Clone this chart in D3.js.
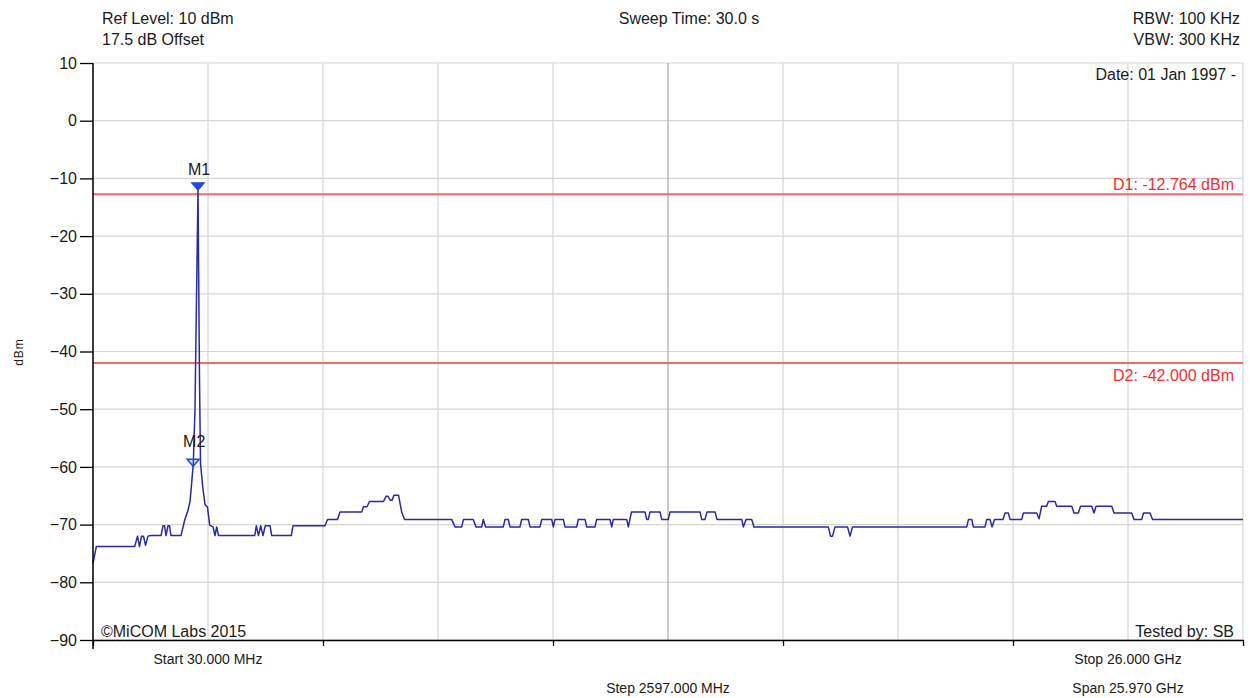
<!DOCTYPE html>
<html>
<head>
<meta charset="utf-8">
<script src="https://cdn.jsdelivr.net/npm/d3@7"></script>
<style>
  body { margin: 0; background: #fff; }
  svg text { font-family: "Liberation Sans", Arial, sans-serif; fill: #1a1a1a; }
</style>
</head>
<body>
<svg id="chart" width="1250" height="698"></svg>
<script>
// Spectrum sweep 30 MHz – 26 GHz, peak-hold trace
const freqGHz = [
  0.030, 0.105, 0.972, 1.035, 1.080, 1.125, 1.170, 1.216, 1.272, 1.329,
  1.566, 1.611, 1.645, 1.679, 1.724, 1.758, 1.791, 2.017, 2.101, 2.175,
  2.221, 2.254, 2.295, 2.333, 2.401, 2.435, 2.458, 2.507, 2.559, 2.616,
  2.665, 2.740, 2.785, 2.823, 2.864, 3.682, 3.718, 3.767, 3.817, 3.869,
  3.921, 4.027, 4.066, 4.508, 4.547, 5.269, 5.326, 5.552, 5.608, 6.098,
  6.139, 6.218, 6.274, 6.590, 6.647, 6.692, 6.748, 6.782, 6.827, 6.929,
  7.001, 7.065, 8.131, 8.205, 8.356, 8.397, 8.618, 8.679, 8.808, 8.844,
  8.894, 9.296, 9.334, 9.409, 9.447, 9.673, 9.711, 9.860, 9.899, 10.125,
  10.163, 10.389, 10.425, 10.463, 10.651, 10.689, 10.953, 10.990, 11.141, 11.179,
  11.367, 11.405, 11.705, 11.744, 11.780, 12.082, 12.119, 12.191, 12.496, 12.534,
  12.570, 12.609, 12.835, 12.873, 13.022, 13.060, 13.738, 13.776, 13.851, 13.896,
  14.077, 14.122, 14.680, 14.716, 14.777, 14.905, 14.957, 16.635, 16.685, 16.730,
  16.787, 17.069, 17.125, 17.182, 19.761, 19.801, 19.874, 19.910, 20.174, 20.213,
  20.287, 20.332, 20.389, 20.581, 20.626, 20.700, 20.739, 21.003, 21.039, 21.342,
  21.394, 21.454, 21.567, 21.604, 21.755, 21.793, 22.132, 22.184, 22.281, 22.331,
  22.584, 22.636, 22.681, 23.035, 23.087, 23.487, 23.539, 23.713, 23.753, 23.900,
  23.957, 26.000
];
const levelDbm = [
  -76.7, -73.8, -73.8, -72.0, -73.8, -72.0, -72.0, -73.6, -72.0, -71.9,
  -71.9, -70.2, -70.2, -71.9, -70.2, -70.2, -71.9, -71.9, -69.2, -67.5,
  -66.0, -63.2, -59.4, -50.0, -12.0, -45.0, -59.4, -63.4, -66.5, -67.0,
  -70.1, -70.4, -71.9, -70.4, -71.9, -71.9, -70.2, -71.9, -70.2, -71.9,
  -70.2, -70.2, -71.9, -71.9, -70.2, -70.2, -69.1, -69.1, -67.8, -67.8,
  -66.9, -66.9, -66.0, -66.0, -65.1, -65.1, -65.8, -65.8, -64.9, -64.9,
  -67.8, -69.1, -69.1, -70.4, -70.4, -69.1, -69.1, -70.4, -70.4, -69.1,
  -70.4, -70.4, -69.1, -69.1, -70.4, -70.4, -69.1, -69.1, -70.4, -70.4,
  -69.1, -69.1, -70.4, -69.1, -69.1, -70.4, -70.4, -69.1, -69.1, -70.4,
  -70.4, -69.1, -69.1, -70.4, -69.1, -69.1, -70.4, -67.8, -67.8, -69.1,
  -69.1, -67.8, -67.8, -69.1, -69.1, -67.8, -67.8, -69.1, -69.1, -67.8,
  -67.8, -69.1, -69.1, -70.4, -69.1, -69.1, -70.4, -70.4, -72.0, -72.0,
  -70.4, -70.4, -72.0, -70.4, -70.4, -69.1, -69.1, -70.4, -70.4, -69.1,
  -69.1, -70.4, -69.1, -69.1, -68.0, -68.0, -69.1, -69.1, -68.0, -68.0,
  -69.0, -66.8, -66.8, -66.0, -66.0, -66.8, -66.8, -68.0, -68.0, -66.8,
  -66.8, -68.0, -66.8, -66.8, -68.0, -68.0, -69.1, -69.1, -68.0, -68.0,
  -69.1, -69.1
];

// Markers
const markerNames = ["M1", "M2"];
const markerFreqGHz = [2.401, 2.292];
const markerDbm = [-12.0, -59.9];
const markerFilled = [true, false];

// Display (limit) lines
const limitNames = ["D1", "D2"];
const limitDbm = [-12.764, -42.000];

// Axis setup
const startGHz = 0.030, stopGHz = 26.000, divisions = 10;
const stepGHz = (stopGHz - startGHz) / divisions;
const yTicks = [10, 0, -10, -20, -30, -40, -50, -60, -70, -80, -90];
const gridFreqs = d3.range(divisions + 1).map(i => startGHz + i * stepGHz);
const majorFreqs = gridFreqs.filter((d, i) => i % 2 === 0);

const headerLeft = ["Ref Level: 10 dBm", "17.5 dB Offset"];
const headerCenter = "Sweep Time: 30.0 s";
const headerRight = ["RBW: 100 KHz", "VBW: 300 KHz"];
const dateText = "Date: 01 Jan 1997 -";
const copyrightText = "\u00A9MiCOM Labs 2015";
const testedText = "Tested by: SB";
const footerTop = [["Start 30.000 MHz", 1], ["Stop 26.000 GHz", 9]];
const footerBottom = [["Step 2597.000 MHz", 5], ["Span 25.970 GHz", 9]];

const svg = d3.select("#chart");
const x = d3.scaleLinear().domain([startGHz, stopGHz]).range([93, 1243]);
const y = d3.scaleLinear().domain([-90, 10]).range([640, 63]);

// Grid
const grid = svg.append("g");
grid.selectAll("line.h").data(yTicks).join("line")
  .attr("x1", x(startGHz)).attr("x2", x(stopGHz))
  .attr("y1", d => y(d)).attr("y2", d => y(d))
  .attr("stroke", "#d6d6d6").attr("stroke-width", 1.2);
grid.selectAll("line.v").data(gridFreqs).join("line")
  .attr("x1", d => x(d)).attr("x2", d => x(d))
  .attr("y1", y(10)).attr("y2", y(-90))
  .attr("stroke", (d, i) => i === 5 ? "#a8a8a8" : "#d6d6d6")
  .attr("stroke-width", 1.2);

// Limit lines
limitDbm.forEach((v, i) => {
  svg.append("line")
    .attr("x1", x(startGHz)).attr("x2", x(stopGHz))
    .attr("y1", y(v)).attr("y2", y(v))
    .attr("stroke", "#f26a6a").attr("stroke-width", 2);
  svg.append("text")
    .attr("x", 1234).attr("y", i === 0 ? y(v) - 4 : y(v) + 18)
    .attr("text-anchor", "end").attr("font-size", 16)
    .style("fill", "#f03030")
    .text(`${limitNames[i]}: ${v.toFixed(3)} dBm`);
});

// Trace
const trace = freqGHz.map((f, i) => [f, levelDbm[i]]);
svg.append("path")
  .datum(trace)
  .attr("fill", "none")
  .attr("stroke", "#2a2aa0")
  .attr("stroke-width", 1.5)
  .attr("stroke-linejoin", "round")
  .attr("d", d3.line().x(d => x(d[0])).y(d => y(d[1])));

// Markers
markerNames.forEach((name, i) => {
  const mx = x(markerFreqGHz[i]), my = y(markerDbm[i]);
  svg.append("path")
    .attr("d", `M${mx - 6},${my - 7}L${mx + 6},${my - 7}L${mx},${my}Z`)
    .attr("fill", markerFilled[i] ? "#2246e0" : "rgba(80,110,240,0.25)")
    .attr("stroke", "#2246e0").attr("stroke-width", 1.5);
  svg.append("text")
    .attr("x", mx + 1).attr("y", my - (markerFilled[i] ? 15 : 19))
    .attr("text-anchor", "middle").attr("font-size", 16)
    .text(name);
});

// Axes
const yAxis = svg.append("g")
  .attr("transform", `translate(${x(startGHz)},0)`)
  .call(d3.axisLeft(y).tickValues(yTicks).tickSize(13).tickPadding(3).tickSizeOuter(0));
yAxis.select(".domain").attr("stroke", "#000").attr("stroke-width", 1.5)
  .attr("d", `M0,${y(10)}V${y(-90) + 9}`);
yAxis.selectAll(".tick line").attr("stroke", "#000").attr("stroke-width", 1.3);
yAxis.selectAll(".tick text").attr("font-size", 16)
  .attr("font-family", "Liberation Sans, Arial, sans-serif").style("fill", "#1a1a1a");

const xAxis = svg.append("g")
  .attr("transform", `translate(0,${y(-90)})`)
  .call(d3.axisBottom(x).tickValues(majorFreqs).tickSize(6).tickFormat("").tickSizeOuter(0));
xAxis.select(".domain").attr("stroke", "#000").attr("stroke-width", 1.5);
xAxis.selectAll(".tick line").attr("stroke", "#000").attr("stroke-width", 1.3);

// Y-axis title
svg.append("text")
  .attr("transform", "translate(23,352) rotate(-90)")
  .attr("text-anchor", "middle").attr("font-size", 12)
  .attr("letter-spacing", 1)
  .text("dBm");

// Header texts
headerLeft.forEach((t, i) => {
  svg.append("text").attr("x", 102).attr("y", 24 + i * 21)
    .attr("font-size", 16).text(t);
});
svg.append("text").attr("x", 689).attr("y", 24)
  .attr("text-anchor", "middle").attr("font-size", 16).text(headerCenter);
headerRight.forEach((t, i) => {
  svg.append("text").attr("x", 1240).attr("y", 24 + i * 21)
    .attr("text-anchor", "end").attr("font-size", 16).text(t);
});
svg.append("text").attr("x", 1236).attr("y", 80)
  .attr("text-anchor", "end").attr("font-size", 16).text(dateText);

// In-plot annotations
svg.append("text").attr("x", 101).attr("y", 637)
  .attr("font-size", 16).text(copyrightText);
svg.append("text").attr("x", 1234).attr("y", 637)
  .attr("text-anchor", "end").attr("font-size", 16).text(testedText);

// Footer labels
footerTop.forEach(([t, k]) => {
  svg.append("text").attr("x", x(gridFreqs[k])).attr("y", 664)
    .attr("text-anchor", "middle").attr("font-size", 14).text(t);
});
footerBottom.forEach(([t, k]) => {
  svg.append("text").attr("x", x(gridFreqs[k])).attr("y", 693)
    .attr("text-anchor", "middle").attr("font-size", 14).text(t);
});
</script>
</body>
</html>
